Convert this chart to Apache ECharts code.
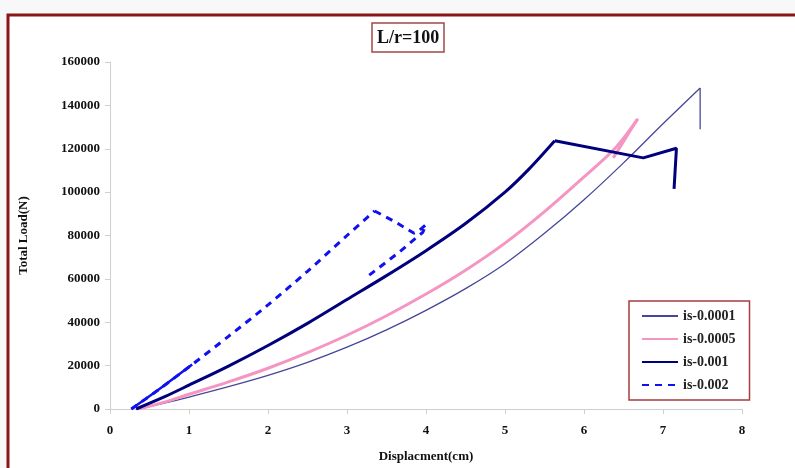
<!DOCTYPE html>
<html>
<head>
<meta charset="utf-8">
<script src="https://cdn.jsdelivr.net/npm/echarts@6/dist/echarts.min.js"></script>
<style>
	html, body { margin: 0; padding: 0; background: #f8f8f8; }
	#main { width: 795px; height: 468px; }
</style>
</head>
<body>
<div id="main"></div>
<script>
// 各曲线的数据（位移 cm，荷载 N）
var names = ['is-0.0001', 'is-0.0005', 'is-0.001', 'is-0.002'];
var xTicks = [0, 1, 2, 3, 4, 5, 6, 7, 8];
var yTicks = [0, 20000, 40000, 60000, 80000, 100000, 120000, 140000, 160000];

// 上升段（平滑）
var disp1 = [0.36, 0.7, 1, 1.5, 2, 2.5, 3, 3.5, 4, 4.5, 5, 5.5, 6, 6.5, 7, 7.47];
var load1 = [0, 2800, 5500, 10300, 15500, 21500, 28500, 36500, 45500, 55500, 67000, 81000, 96500, 113500, 131500, 148000];
// 峰值后段（折线）
var tailDisp1 = [7.47, 7.47];
var tailLoad1 = [148000, 129000];

var disp2 = [0.36, 0.7, 1, 1.5, 2, 2.5, 3, 3.5, 4, 4.5, 5, 5.5, 6, 6.4, 6.68];
var load2 = [0, 3300, 6800, 12500, 18800, 26000, 34000, 43000, 53000, 64000, 76500, 91000, 107000, 120500, 133800];
var tailDisp2 = [6.68, 6.37];
var tailLoad2 = [133800, 115800];

var disp3 = [0.33, 0.7, 1, 1.5, 2, 2.5, 3, 3.5, 4, 4.5, 5, 5.3, 5.63];
var load3 = [0, 5800, 11000, 19800, 29300, 39500, 50500, 61500, 73000, 85500, 100000, 110500, 123700];
var tailDisp3 = [5.63, 6.75, 7.17, 7.14];
var tailLoad3 = [123700, 115800, 120200, 101500];

var disp4 = [0.27, 0.6, 1.04, 1.5, 2, 2.5, 3, 3.35];
var load4 = [0, 8500, 20500, 33500, 48000, 63500, 80000, 91300];
var tailDisp4 = [3.35, 3.6, 3.85, 3.92, 4.0, 3.96, 3.65, 3.28];
var tailLoad4 = [91300, 86500, 81000, 82500, 85000, 81500, 72000, 61700];

function pairs(xs, ys) {
	var out = [];
	for (var i = 0; i < xs.length; i++) out.push([xs[i], ys[i]]);
	return out;
}

var font = 'Liberation Serif';
var colors = ['#47479a', '#f596c2', '#00007c', '#1010f0'];
var widths = [1.3, 3, 3, 3];
var types = ['solid', 'solid', 'solid', [7, 6]];
var rising = [pairs(disp1, load1), pairs(disp2, load2), pairs(disp3, load3), pairs(disp4, load4)];
var tails = [pairs(tailDisp1, tailLoad1), pairs(tailDisp2, tailLoad2), pairs(tailDisp3, tailLoad3), pairs(tailDisp4, tailLoad4)];

var series = [];
for (var i = 0; i < names.length; i++) {
	series.push({
		name: names[i], type: 'line', symbol: 'none', smooth: 0.3,
		data: rising[i],
		itemStyle: { color: colors[i] },
		lineStyle: { color: colors[i], width: widths[i], type: types[i] }
	});
}
for (var j = 0; j < names.length; j++) {
	series.push({
		name: names[j], type: 'line', symbol: 'none',
		data: tails[j],
		itemStyle: { color: colors[j] },
		lineStyle: { color: colors[j], width: widths[j], type: types[j] }
	});
}
// is-0.002 起始段为实线
series.push({
	name: 'is-0.002-start', type: 'line', symbol: 'none',
	data: pairs(disp4.slice(0, 3), load4.slice(0, 3)),
	lineStyle: { color: colors[3], width: 2.5 }
});

var myChart = echarts.init(document.getElementById('main'));

var option = {
	animation: false,
	backgroundColor: '#f8f8f8',
	graphic: [{
		type: 'rect',
		z: -10,
		shape: { x: 8, y: 15, width: 820, height: 480 },
		style: { fill: '#ffffff', stroke: '#8b1414', lineWidth: 3 }
	}],
	title: {
		text: 'L/r=100',
		left: 372,
		top: 23,
		padding: [6, 5, 5, 5],
		borderColor: '#a04848',
		borderWidth: 1.5,
		textStyle: { fontFamily: font, fontWeight: 'bold', fontSize: 18, color: '#111' }
	},
	legend: {
		data: names,
		orient: 'vertical',
		left: 629,
		top: 301,
		padding: [8, 14, 8, 12],
		itemGap: 9,
		itemWidth: 36,
		itemHeight: 14,
		itemStyle: { opacity: 0 },
		borderColor: '#a83c3c',
		borderWidth: 1.5,
		backgroundColor: '#fff',
		textStyle: { fontFamily: font, fontWeight: 'bold', fontSize: 14, color: '#222' }
	},
	grid: { left: 110, right: 53, top: 62, bottom: 56 },
	xAxis: {
		type: 'value',
		min: xTicks[0],
		max: xTicks[xTicks.length - 1],
		interval: 1,
		name: 'Displacment(cm)',
		nameLocation: 'middle',
		nameGap: 41,
		nameTextStyle: { fontFamily: font, fontWeight: 'bold', fontSize: 13, color: '#111' },
		axisLine: { lineStyle: { color: '#cfcfcf' } },
		axisTick: { lineStyle: { color: '#cfcfcf' } },
		axisLabel: { fontFamily: font, fontWeight: 'bold', fontSize: 13, color: '#111', margin: 15 },
		splitLine: { show: false }
	},
	yAxis: {
		type: 'value',
		min: yTicks[0],
		max: yTicks[yTicks.length - 1],
		interval: 20000,
		name: 'Total Load(N)',
		nameLocation: 'middle',
		nameGap: 80,
		nameTextStyle: { fontFamily: font, fontWeight: 'bold', fontSize: 13, color: '#111' },
		axisLine: { show: true, lineStyle: { color: '#cfcfcf' } },
		axisTick: { show: true, lineStyle: { color: '#cfcfcf' } },
		axisLabel: {
			fontFamily: font, fontWeight: 'bold', fontSize: 13, color: '#111', margin: 10,
			formatter: function(v) { return String(v); }
		},
		splitLine: { show: false }
	},
	series: series
};

myChart.setOption(option);
</script>
</body>
</html>
